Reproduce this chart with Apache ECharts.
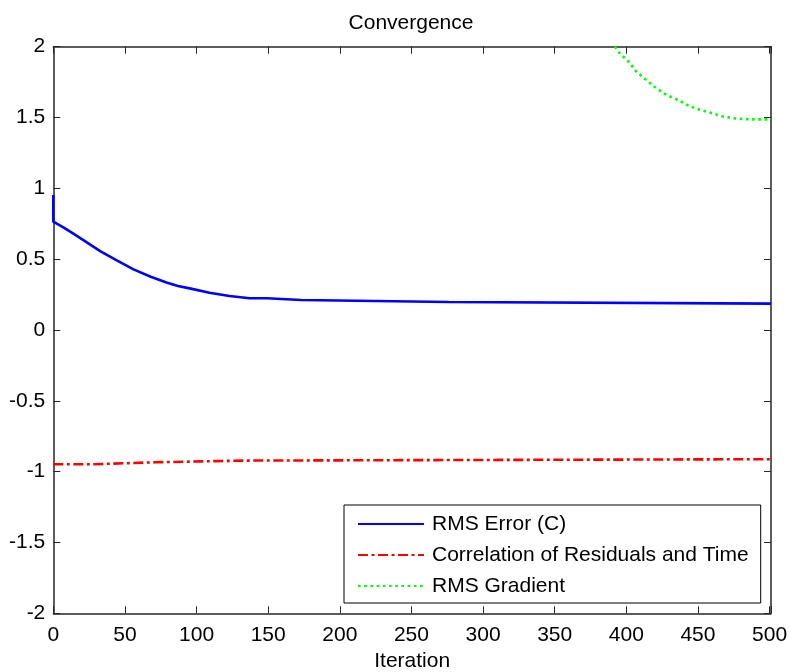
<!DOCTYPE html>
<html>
<head>
<meta charset="utf-8">
<script src="https://cdn.jsdelivr.net/npm/echarts@6/dist/echarts.min.js"></script>
<style>
  html, body { margin: 0; padding: 0; background: #fff; }
  #chart { width: 789px; height: 672px; }
</style>
</head>
<body>
<div id="chart"></div>
<script>
// Convergence history of the fit
const seriesNames = ['RMS Error (C)', 'Correlation of Residuals and Time', 'RMS Gradient'];

const rmsIter  = [0, 0, 7, 14, 21, 33, 44, 56, 68, 79, 87, 96, 109, 123, 137, 149, 149, 173, 173, 276, 276, 501];
const rmsValue = [0.953, 0.765, 0.725, 0.68, 0.635, 0.555, 0.494, 0.428, 0.376, 0.336, 0.31, 0.292, 0.263, 0.240, 0.224, 0.224, 0.212, 0.212, 0.198, 0.198, 0.186, 0.186];

const corrIter  = [0, 27, 27, 71, 71, 132, 132, 501];
const corrValue = [-0.948, -0.948, -0.934, -0.934, -0.922, -0.922, -0.912, -0.912];

const gradIter  = [392, 395, 402, 407, 414, 421, 428, 436, 444, 452, 460, 468, 477, 487, 501];
const gradValue = [2.0, 1.958, 1.89, 1.823, 1.765, 1.706, 1.659, 1.624, 1.581, 1.553, 1.530, 1.506, 1.492, 1.487, 1.487];

const xTicks = [0, 50, 100, 150, 200, 250, 300, 350, 400, 450, 500];
const yTicks = [-2, -1.5, -1, -0.5, 0, 0.5, 1, 1.5, 2];

const zip = (xs, ys) => xs.map((x, i) => [x, ys[i]]);

const FONT = "'Liberation Sans', Arial, sans-serif";
const AXIS_COLOR = '#262626';

const xRange = { min: 0, max: 501, interval: 50 };
const yRange = { min: -2, max: 2, interval: 0.5 };

const axisLine = { show: true, onZero: false, lineStyle: { color: AXIS_COLOR, width: 1.5 } };
const tickIn = { show: true, inside: true, length: 7, lineStyle: { color: AXIS_COLOR, width: 1 } };

const chart = echarts.init(document.getElementById('chart'), null, { renderer: 'canvas' });

chart.setOption({
  animation: false,
  backgroundColor: '#ffffff',
  textStyle: { fontFamily: FONT },
  title: {
    text: 'Convergence',
    left: 406,
    top: 8,
    textAlign: 'center',
    textStyle: { fontFamily: FONT, fontSize: 21, fontWeight: 'normal', color: '#000' }
  },
  grid: { left: 53.3, right: 18, top: 46.7, bottom: 58.7, containLabel: false, outerBoundsMode: 'none' },
  legend: {
    orient: 'vertical',
    left: 344,
    top: 505,
    data: seriesNames,
    itemWidth: 66,
    itemHeight: 12,
    itemGap: 10,
    padding: [8.5, 12, 6.5, 13],
    borderColor: '#000',
    borderWidth: 1,
    backgroundColor: '#fff',
    selectedMode: false,
    itemStyle: { opacity: 0 },
    textStyle: { fontFamily: FONT, fontSize: 21, lineHeight: 21, color: '#000', padding: [0, 0, 0, 3] }
  },
  xAxis: [
    {
      type: 'value', position: 'bottom', ...xRange,
      name: 'Iteration', nameLocation: 'middle', nameGap: 37,
      nameTextStyle: { fontFamily: FONT, fontSize: 21, color: '#000' },
      axisLine, axisTick: tickIn, splitLine: { show: false },
      axisLabel: {
        margin: 11, fontFamily: FONT, fontSize: 21, color: '#000',
        formatter: v => (xTicks.includes(v) ? String(v) : '')
      }
    },
    {
      type: 'value', position: 'top', ...xRange,
      axisLine, axisTick: tickIn, splitLine: { show: false },
      axisLabel: { show: false }
    }
  ],
  yAxis: [
    {
      type: 'value', position: 'left', ...yRange,
      axisLine, axisTick: tickIn, splitLine: { show: false },
      axisLabel: {
        margin: 8, fontFamily: FONT, fontSize: 21, color: '#000',
        formatter: v => (yTicks.includes(v) ? String(v) : '')
      }
    },
    {
      type: 'value', position: 'right', ...yRange,
      axisLine, axisTick: tickIn, splitLine: { show: false },
      axisLabel: { show: false }
    }
  ],
  series: [
    {
      name: seriesNames[0], type: 'line', xAxisIndex: 0, yAxisIndex: 0,
      data: zip(rmsIter, rmsValue), showSymbol: false, symbol: 'none', clip: true,
      color: '#0000ff',
      lineStyle: { color: '#0000ff', width: 2.6, type: 'solid' }
    },
    {
      name: seriesNames[1], type: 'line', xAxisIndex: 0, yAxisIndex: 0,
      data: zip(corrIter, corrValue), showSymbol: false, symbol: 'none', clip: true,
      color: '#ff0000',
      lineStyle: { color: '#ff0000', width: 2.6, type: [10, 3.5, 3, 3.5] }
    },
    {
      name: seriesNames[2], type: 'line', xAxisIndex: 0, yAxisIndex: 0,
      data: zip(gradIter, gradValue), showSymbol: false, symbol: 'none', clip: true,
      color: '#00ff00',
      lineStyle: { color: '#00ff00', width: 2.6, type: [2.6, 3.6] }
    }
  ]
});
</script>
</body>
</html>
